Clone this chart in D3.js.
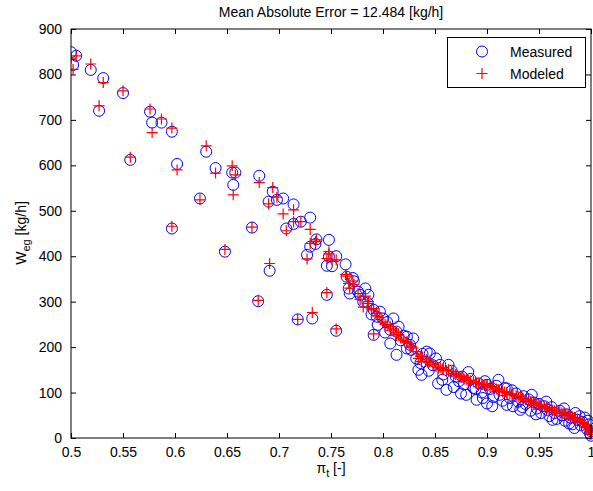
<!DOCTYPE html>
<html><head><meta charset="utf-8">
<script src="https://cdn.jsdelivr.net/npm/d3@7"></script>
<style>
html,body{margin:0;padding:0;background:#fff;}
text{font-family:"Liberation Sans",Arial,Helvetica,sans-serif;}
</style></head>
<body>
<svg id="chart" width="593" height="491"></svg>
<script>
const titleText = "Mean Absolute Error = 12.484 [kg/h]";
const xTicks = [0.5,0.55,0.6,0.65,0.7,0.75,0.8,0.85,0.9,0.95,1];
const xTickLabels = ["0.5","0.55","0.6","0.65","0.7","0.75","0.8","0.85","0.9","0.95","1"];
const yTicks = [0,100,200,300,400,500,600,700,800,900];
const seriesNames = ["Measured","Modeled"];

const piT = [
0.500,0.505,0.502,0.519,0.531,0.527,0.550,0.557,0.576,0.578,
0.587,0.597,0.602,0.597,0.624,0.630,0.639,0.648,0.655,0.658,
0.656,0.674,0.680,0.681,0.690,0.691,0.694,0.698,0.704,0.707,
0.714,0.714,0.718,0.721,0.727,0.730,0.730,0.732,0.735,0.736,
0.746,0.746,0.748,0.748,0.751,0.755,0.755,0.764,0.765,0.767,
0.768,0.772,0.778,0.781,0.783,0.786,0.791,0.791,0.794,0.795,
0.797,0.800,0.802,0.807,0.807,0.810,0.813,0.813,0.817,0.820,
0.823,0.823,0.827,0.829,0.832,0.834,0.837,0.838,0.842,0.845,
0.848,0.853,0.855,0.858,0.861,0.863,0.866,0.870,0.873,0.876,
0.878,0.880,0.884,0.887,0.890,0.892,0.895,0.898,0.900,0.900,
0.903,0.906,0.909,0.912,0.915,0.917,0.919,0.919,0.922,0.925,
0.928,0.930,0.932,0.935,0.937,0.940,0.942,0.945,0.948,0.950,
0.952,0.955,0.958,0.960,0.962,0.965,0.967,0.970,0.972,0.975,
0.977,0.980,0.982,0.985,0.987,0.990,0.992,0.994,0.996,0.998,
1.000,1.000,
0.771,0.776,0.785,0.789,0.804,0.815,0.826,0.836,0.844,0.851,
0.857,0.868,0.875,0.882,0.889,0.896,0.905,0.911,0.924,0.934,
0.943,0.947,0.957,0.963,0.974,0.979,0.984,0.989,0.997,0.999];

const measured = [
849,841,821,810,792,720,759,612,718,694,
694,674,603,461,527,630,594,410,584,584,
557,463,301,577,520,368,542,524,527,461,
514,471,261,476,403,485,421,263,427,437,
315,379,436,399,378,400,236,382,355,329,
318,345,315,300,329,315,227,282,267,249,
278,263,232,238,208,263,234,183,215,225,
197,223,194,219,175,150,139,185,190,186,
160,120,161,140,106,161,148,135,125,135,
118,95,130,110,84,120,100,125,76,117,
108,90,115,95,82,110,73,109,88,70,
98,80,62,92,75,85,60,78,65,75,
55,70,62,48,68,55,42,60,50,38,
52,45,30,55,40,28,35,45,20,30,
15,5,
352,322,298,272,255,245,205,165,148,175,
128,112,98,145,108,88,70,128,105,68,
95,52,80,40,65,32,22,48,38,10];

const modeled = [
836,841,811,823,782,731,764,618,724,672,
702,682,590,466,524,643,583,415,599,579,
535,464,303,562,515,384,551,530,493,456,
502,476,261,476,394,459,428,276,432,436,
320,395,405,410,392,392,240,360,356,340,
330,338,305,288,312,300,229,285,275,268,
265,255,250,245,236,240,232,225,220,215,
210,212,202,198,190,175,168,178,172,168,
162,155,155,150,148,150,146,140,136,134,
130,128,126,124,121,120,118,117,115,116,
113,110,108,104,102,101,99,99,97,95,
93,91,90,86,84,82,80,77,75,73,
71,69,66,64,62,60,59,57,55,53,
51,49,46,44,42,38,34,30,25,18,
12,8,
345,318,296,282,248,228,200,180,166,158,
152,142,135,127,122,118,112,106,96,88,
79,76,67,61,54,50,45,40,22,14];

const W = 593, H = 491;
const m = {left:71, right:2, top:29, bottom:53};
const svg = d3.select("#chart");
const x = d3.scaleLinear().domain([0.5,1]).range([m.left, W-m.right]);
const y = d3.scaleLinear().domain([0,900]).range([H-m.bottom, m.top]);
const tl = 5;

const gx = svg.append("g").attr("transform",`translate(0,${H-m.bottom})`)
  .call(d3.axisBottom(x).tickValues(xTicks).tickFormat((d,i)=>xTickLabels[i]).tickSizeInner(-tl).tickSizeOuter(0).tickPadding(9));
const gxt = svg.append("g").attr("transform",`translate(0,${m.top})`)
  .call(d3.axisTop(x).tickValues(xTicks).tickFormat("").tickSizeInner(-tl).tickSizeOuter(0));
const gy = svg.append("g").attr("transform",`translate(${m.left},0)`)
  .call(d3.axisLeft(y).tickValues(yTicks).tickSizeInner(-tl).tickSizeOuter(0).tickPadding(9));
const gyr = svg.append("g").attr("transform",`translate(${W-m.right},0)`)
  .call(d3.axisRight(y).tickValues(yTicks).tickFormat("").tickSizeInner(-tl).tickSizeOuter(0));
[gx,gxt,gy,gyr].forEach(g=>{
  g.select(".domain").remove();
  g.selectAll("line").attr("stroke","#000");
  g.selectAll("text").attr("fill","#000").style("font-size","14px")
   .style("font-family",'"Liberation Sans",Arial,sans-serif');
});

svg.append("defs").append("clipPath").attr("id","clip")
  .append("rect").attr("x",m.left).attr("y",m.top-6).attr("width",W-m.left-m.right+6).attr("height",H-m.top-m.bottom+12);

const data = piT.map((p,i)=>({p, meas:measured[i], mod:modeled[i]}));
const pts = svg.append("g").attr("clip-path","url(#clip)");
pts.selectAll("circle.meas").data(data).enter().append("circle")
  .attr("class","meas").attr("cx",d=>x(d.p)).attr("cy",d=>y(d.meas)).attr("r",5.5)
  .attr("fill","none").attr("stroke","#0000ff").attr("stroke-width",1);
const s = 5.5;
pts.selectAll("path.mod").data(data).enter().append("path")
  .attr("class","mod")
  .attr("d",d=>{const cx=x(d.p), cy=y(d.mod); return `M${cx-s},${cy}H${cx+s}M${cx},${cy-s}V${cy+s}`;})
  .attr("stroke","#ff0000").attr("stroke-width",1.2).attr("fill","none");

svg.append("rect").attr("x",m.left).attr("y",m.top).attr("width",W-m.left-m.right).attr("height",H-m.top-m.bottom)
  .attr("fill","none").attr("stroke","#000").attr("stroke-width",1);

svg.append("text").attr("x",(m.left+W-m.right)/2).attr("y",17).attr("text-anchor","middle")
  .style("font-size","14px").text(titleText);

const xl = svg.append("text").attr("x",331).attr("y",473).attr("text-anchor","middle").style("font-size","14px");
xl.append("tspan").text("π");
xl.append("tspan").attr("dy",4).style("font-size","11px").text("t");
xl.append("tspan").attr("dy",-4).text(" [-]");

const yl = svg.append("text").attr("transform","translate(26,233) rotate(-90)").attr("text-anchor","middle").style("font-size","14px");
yl.append("tspan").text("W");
yl.append("tspan").attr("dy",4).style("font-size","11px").text("eg");
yl.append("tspan").attr("dy",-4).text(" [kg/h]");

const lg = svg.append("g");
lg.append("rect").attr("x",447.5).attr("y",37.5).attr("width",138).attr("height",50)
  .attr("fill","#fff").attr("stroke","#000").attr("stroke-width",1);
lg.append("circle").attr("cx",482).attr("cy",51.5).attr("r",5.5).attr("fill","none").attr("stroke","#0000ff");
lg.append("path").attr("d",`M${482-s},73.5H${482+s}M482,${73.5-s}V${73.5+s}`).attr("stroke","#ff0000").attr("stroke-width",1.2);
lg.append("text").attr("x",510).attr("y",56.5).style("font-size","14px").text(seriesNames[0]);
lg.append("text").attr("x",510).attr("y",79).style("font-size","14px").text(seriesNames[1]);
</script>
</body></html>
